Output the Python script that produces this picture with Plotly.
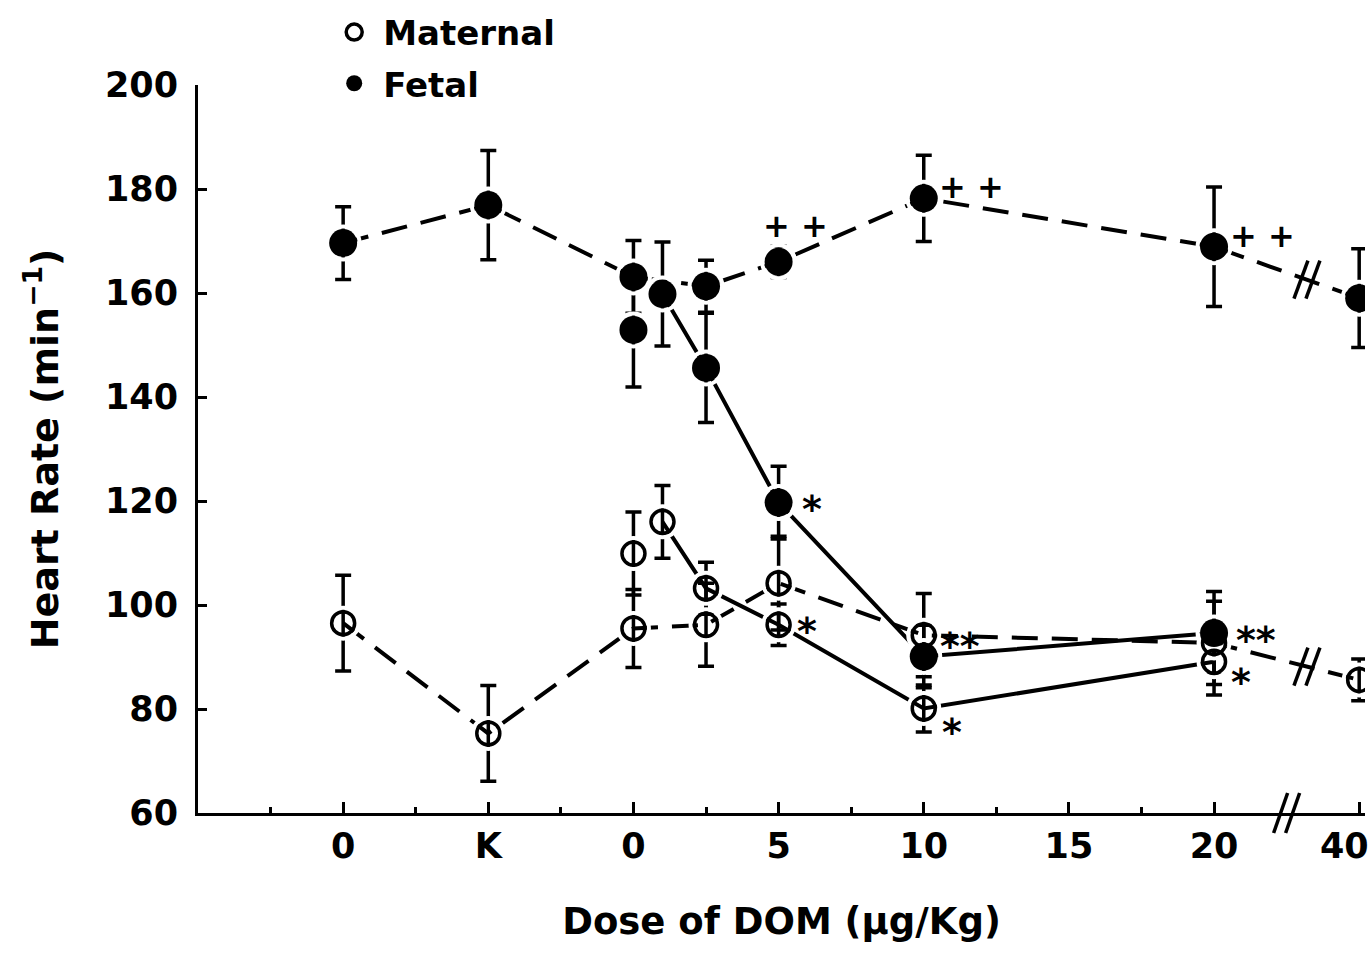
import plotly.graph_objects as go

# ---------------- data ----------------
tick_pos = [-10, -5, 0, 5, 10, 15, 20, 25]
tick_text = ["0", "K", "0", "5", "10", "15", "20", "40"]
minor_pos = [-12.5, -7.5, -2.5, 2.5, 7.5, 12.5, 17.5]
y_ticks = [60, 80, 100, 120, 140, 160, 180, 200]

# dashed series: control 0, K, DOM 0, 2.5, 5, 10, 20, 40 (40 drawn after the axis break)
x_dashed = [-10, -5, 0, 2.5, 5, 10, 20, 25]
fetal_dashed = [169.6, 176.9, 163.1, 161.3, 166.0, 178.2, 168.9, 159.0]
fetal_dashed_err = [7.0, 10.5, 7.0, 5.0, 3.0, 8.3, 11.5, 9.5]
maternal_dashed = [96.5, 75.3, 95.5, 96.2, 104.2, 94.2, 92.7, 85.6]
maternal_dashed_err = [9.2, 9.2, 7.5, 8.0, 9.0, 8.0, 8.0, 4.0]

# solid series: DOM 0, 1, 2.5, 5, 10, 20
x_solid = [0, 1, 2.5, 5, 10, 20]
fetal_solid = [152.9, 159.8, 145.6, 119.7, 90.1, 94.6]
fetal_solid_err = [11.0, 10.0, 10.5, 7.0, 6.0, 8.0]
maternal_solid = [109.9, 116.0, 103.2, 96.2, 80.1, 89.1]
maternal_solid_err = [8.0, 7.0, 5.0, 4.0, 4.5, 6.4]

# ---------------- geometry ----------------
W, H = 1372, 958
ML, MR, MT, MB = 198, 7, 85, 145
X_RANGE = [-15, 25.2]
Y_RANGE = [60, 200]
PW, PH = W - ML - MR, H - MT - MB

FONT = "DejaVu Sans"
LW = 4
DASH = "26px,14px"

fig = go.Figure()

series = [
    (x_dashed, fetal_dashed, fetal_dashed_err, DASH, "fetal", 0),
    (x_dashed, maternal_dashed, maternal_dashed_err, DASH, "maternal", 0),
    (x_solid, fetal_solid, fetal_solid_err, "solid", "fetal", 1),
    (x_solid, maternal_solid, maternal_solid_err, "solid", "maternal", 1),
]

# lines
for x, y, e, dash, kind, start in series:
    fig.add_trace(go.Scatter(x=x[start:], y=y[start:], mode="lines",
                             line=dict(color="black", width=LW, dash=dash),
                             showlegend=False, hoverinfo="skip"))
# error bars
for x, y, e, dash, kind, start in series:
    fig.add_trace(go.Scatter(x=x, y=y, mode="markers",
                             marker=dict(size=1, color="rgba(0,0,0,0)"),
                             error_y=dict(type="data", array=e, visible=True, color="black",
                                          thickness=3.5, width=8),
                             showlegend=False, hoverinfo="skip"))
# white halos around markers
for x, y, e, dash, kind, start in series:
    size = 33 if kind == "fetal" else 31
    fig.add_trace(go.Scatter(x=x, y=y, mode="markers",
                             marker=dict(symbol="circle-open", size=size, color="white",
                                         line=dict(width=4, color="white")),
                             showlegend=False, hoverinfo="skip"))
# markers
for x, y, e, dash, kind, start in series:
    if kind == "fetal":
        m = dict(symbol="circle", size=28, color="black", line=dict(width=0))
    else:
        m = dict(symbol="circle-open", size=23, color="black", line=dict(width=3.5, color="black"))
    fig.add_trace(go.Scatter(x=x, y=y, mode="markers", marker=m,
                             showlegend=False, hoverinfo="skip"))

# legend entries
fig.add_trace(go.Scatter(x=[None], y=[None], mode="markers", name="Maternal", legendgroup="m",
                         marker=dict(symbol="circle-open", size=16, color="black",
                                     line=dict(width=3.5, color="black"))))
fig.add_trace(go.Scatter(x=[None], y=[None], mode="markers", name="Fetal", legendgroup="f",
                         marker=dict(symbol="circle", size=16, color="black")))


def to_px(u, v):
    px = ML + (u - X_RANGE[0]) / (X_RANGE[1] - X_RANGE[0]) * PW
    py = MT + (Y_RANGE[1] - v) / (Y_RANGE[1] - Y_RANGE[0]) * PH
    return px, py


def px_to_paper(px, py):
    return (px - ML) / PW, (MT + PH - py) / PH


shapes = []


def add_break(cx, cy, half_w=7, half_h=19, sep=6):
    for ox in (-sep, sep):
        x0, y0 = px_to_paper(cx + ox - half_w, cy + half_h)
        x1, y1 = px_to_paper(cx + ox + half_w, cy - half_h)
        shapes.append(dict(type="line", xref="paper", yref="paper", x0=x0, y0=y0, x1=x1, y1=y1,
                           line=dict(color="black", width=3.5)))


def interp(xs, ys, u):
    for i in range(len(xs) - 1):
        if xs[i] <= u <= xs[i + 1]:
            t = (u - xs[i]) / (xs[i + 1] - xs[i])
            return ys[i] + t * (ys[i + 1] - ys[i])
    return ys[-1]


BREAK_U = 23.2
for ys in (fetal_dashed, maternal_dashed):
    add_break(*to_px(BREAK_U, interp(x_dashed, ys, BREAK_U)))
ax_px, _ = to_px(22.5, 60)
add_break(ax_px, MT + PH, half_h=20)

# significance annotations anchored to points (pixel offsets)
annots = []


def ann(text, u, v, dx, dy, size=38):
    if "*" in text:
        dy -= 9
    annots.append(dict(text=text, x=u, y=v, xref="x", yref="y", showarrow=False,
                       xshift=dx, yshift=dy, font=dict(family=FONT, size=size, color="black",
                                                       weight="bold")))


ann("*", x_solid[3], fetal_solid[3], 33, 3)
ann("*", x_solid[3], maternal_solid[3], 28, 3)
ann("+ +", x_dashed[4], fetal_dashed[4], 17, 36, 32)
ann("+ +", x_dashed[5], fetal_dashed[5], 48, 11, 32)
ann("+ +", x_dashed[6], fetal_dashed[6], 48, 11, 32)
ann("**", x_dashed[5], maternal_dashed[5], 36, -2)
ann("*", x_solid[4], maternal_solid[4], 28, -15)
ann("**", x_solid[5], fetal_solid[5], 42, 2)
ann("*", x_solid[5], maternal_solid[5], 27, -11)

# last tick label ("40") drawn as an annotation nudged left so it stays inside the page
annots.append(dict(text=tick_text[-1], x=tick_pos[-1], xref="x", y=-33 / PH, yref="paper",
                   yanchor="middle", xanchor="center", xshift=-15, showarrow=False,
                   font=dict(family=FONT, size=35, color="black", weight="bold")))
axis_text = tick_text[:-1] + [""]

fig.update_layout(
    width=W, height=H,
    margin=dict(l=ML, r=MR, t=MT, b=MB, autoexpand=False),
    plot_bgcolor="white", paper_bgcolor="white",
    font=dict(family=FONT, size=35, color="black", weight="bold"),
    shapes=shapes,
    annotations=annots,
    hovermode=False,
    legend=dict(x=0.109, y=1.112, xanchor="left", yanchor="top",
                font=dict(family=FONT, size=34, color="black", weight="bold"),
                bgcolor="rgba(0,0,0,0)", tracegroupgap=4, itemsizing="trace", itemwidth=48),
    xaxis=dict(range=X_RANGE, tickmode="array", tickvals=tick_pos, ticktext=axis_text,
               ticks="inside", ticklen=11, tickwidth=3, tickcolor="black",
               showline=True, linewidth=3, linecolor="black", showgrid=False, zeroline=False,
               minor=dict(tickvals=minor_pos, ticks="inside", ticklen=6, tickwidth=3,
                          tickcolor="black", showgrid=False),
               ticklabelstandoff=0, ticklabeloverflow="allow",
               title=dict(text="Dose of DOM (µg/Kg)", standoff=44,
                          font=dict(family=FONT, size=37, weight="bold"))),
    yaxis=dict(range=Y_RANGE, tickmode="array", tickvals=y_ticks,
               ticks="inside", ticklen=9, tickwidth=3, tickcolor="black",
               showline=True, linewidth=3, linecolor="black", showgrid=False, zeroline=False,
               ticklabelstandoff=10,
               title=dict(text="Heart Rate (min<sup>−1</sup>)", standoff=35,
                          font=dict(family=FONT, size=38, weight="bold"))),
)

fig.write_html("out.html", post_script="document.body.style.margin='0';",
               config={"displayModeBar": False})
